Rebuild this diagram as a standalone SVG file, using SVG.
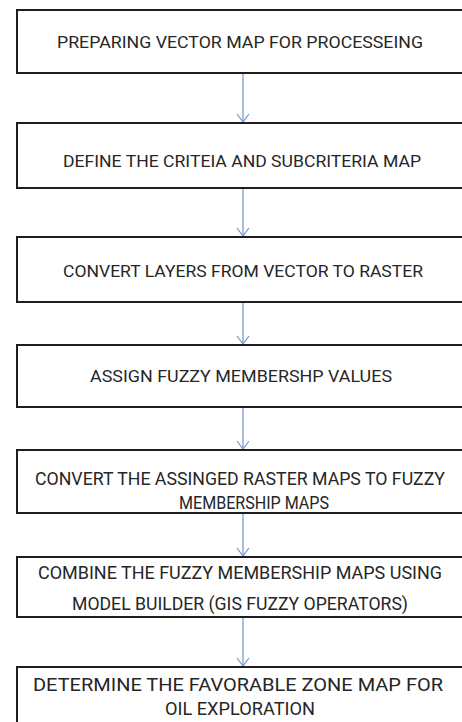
<svg xmlns="http://www.w3.org/2000/svg" width="462" height="722" viewBox="0 0 462 722">
<style>
.box{fill:#fff;stroke:#1e1e1e;stroke-width:2}
.t{font-family:Roboto,"Liberation Sans",sans-serif;fill:#262626;text-anchor:middle}
.s{font-size:17px}
.l{font-size:18px}
.c{stroke:#6f95cc;stroke-width:1.2;fill:none}
</style>
<defs>
<marker id="ah" markerWidth="10" markerHeight="14" refX="9" refY="7" orient="auto" markerUnits="userSpaceOnUse" viewBox="0 0 10 14">
<path d="M1 1 L9 7 L1 13" fill="none" stroke="#6f95cc" stroke-width="1.2"/>
</marker>
</defs>
<rect width="462" height="722" fill="#fff"/>
<g id="connectors">
<line class="c" x1="243" y1="74" x2="243" y2="122" marker-end="url(#ah)"/>
<line class="c" x1="243" y1="189" x2="243" y2="236" marker-end="url(#ah)"/>
<line class="c" x1="243" y1="303" x2="243" y2="344" marker-end="url(#ah)"/>
<line class="c" x1="243" y1="408" x2="243" y2="449" marker-end="url(#ah)"/>
<line class="c" x1="243" y1="514" x2="243" y2="556" marker-end="url(#ah)"/>
<line class="c" x1="243" y1="618" x2="243" y2="666" marker-end="url(#ah)"/>
</g>
<g id="n1">
<rect class="box" x="17" y="10" width="460" height="63"/>
<text class="t s" x="240" y="48" textLength="366" lengthAdjust="spacingAndGlyphs">PREPARING VECTOR MAP FOR PROCESSEING</text>
</g>
<g id="n2">
<rect class="box" x="17" y="123" width="460" height="65"/>
<text class="t s" x="242" y="167" textLength="358" lengthAdjust="spacingAndGlyphs">DEFINE THE CRITEIA AND SUBCRITERIA MAP</text>
</g>
<g id="n3">
<rect class="box" x="17" y="237" width="460" height="65"/>
<text class="t s" x="243" y="277" textLength="360" lengthAdjust="spacingAndGlyphs">CONVERT LAYERS FROM VECTOR TO RASTER</text>
</g>
<g id="n4">
<rect class="box" x="17" y="345" width="460" height="62"/>
<text class="t s" x="241" y="382" textLength="302" lengthAdjust="spacingAndGlyphs">ASSIGN FUZZY MEMBERSHP VALUES</text>
</g>
<g id="n5">
<rect class="box" x="17" y="450" width="460" height="63"/>
<text class="t l" x="240" y="485" textLength="410" lengthAdjust="spacingAndGlyphs">CONVERT THE ASSINGED RASTER MAPS TO FUZZY</text>
<text class="t l" x="254" y="509" textLength="150" lengthAdjust="spacingAndGlyphs">MEMBERSHIP MAPS</text>
</g>
<g id="n6">
<rect class="box" x="17" y="557" width="460" height="60"/>
<text class="t l" x="240" y="579" textLength="404" lengthAdjust="spacingAndGlyphs">COMBINE THE FUZZY MEMBERSHIP MAPS USING</text>
<text class="t l" x="240" y="610" textLength="336" lengthAdjust="spacingAndGlyphs">MODEL BUILDER (GIS FUZZY OPERATORS)</text>
</g>
<g id="n7">
<rect class="box" x="17" y="667" width="460" height="70"/>
<text class="t l" x="238" y="691" textLength="410" lengthAdjust="spacingAndGlyphs">DETERMINE THE FAVORABLE ZONE  MAP FOR</text>
<text class="t l" x="240" y="715" textLength="150" lengthAdjust="spacingAndGlyphs">OIL EXPLORATION</text>
</g>
</svg>
